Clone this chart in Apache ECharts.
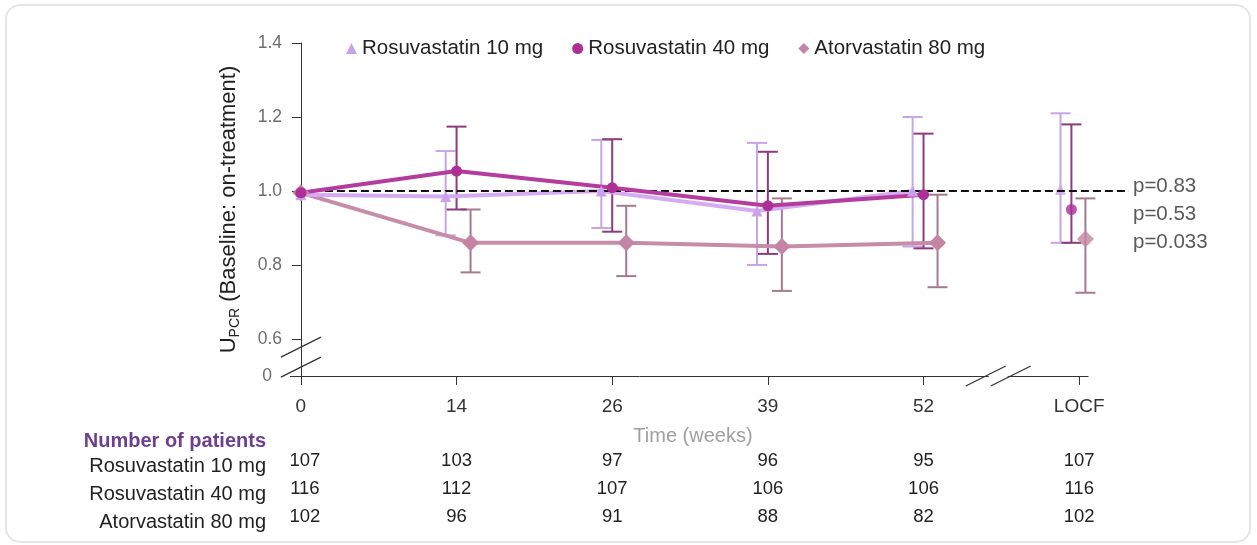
<!DOCTYPE html>
<html>
<head>
<meta charset="utf-8">
<title>UPCR over time by statin</title>
<script src="https://cdn.jsdelivr.net/npm/echarts@6/dist/echarts.min.js"></script>
<style>
  html, body { margin: 0; padding: 0; background: #ffffff; }
  #chart { width: 1257px; height: 545px; }
</style>
</head>
<body>
<div id="chart"></div>
<script>
// Visit labels along the time axis
const weekLabels = ['0', '14', '26', '39', '52', 'LOCF'];

// UPCR ratio (baseline : on-treatment), mean with error-bar bounds per visit
const rosu10Mean  = [0.99, 0.985, 1.00, 0.946, 1.00, 1.005];
const rosu10Upper = [null, 1.108, 1.138, 1.13, 1.20, 1.21];
const rosu10Lower = [null, 0.88, 0.90, 0.80, 0.85, 0.86];

const rosu40Mean  = [0.995, 1.054, 1.009, 0.96, 0.99, 0.95];
const rosu40Upper = [null, 1.174, 1.14, 1.106, 1.155, 1.18];
const rosu40Lower = [null, 0.95, 0.89, 0.83, 0.845, 0.86];

const ator80Mean  = [0.995, 0.86, 0.86, 0.85, 0.86, 0.87];
const ator80Upper = [null, 0.95, 0.96, 0.98, 0.99, 0.98];
const ator80Lower = [null, 0.78, 0.77, 0.73, 0.74, 0.725];

// Number of patients at each visit
const patients10 = [107, 103, 97, 96, 95, 107];
const patients40 = [116, 112, 107, 106, 106, 116];
const patients80 = [102, 96, 91, 88, 82, 102];

const groupNames = ['Rosuvastatin 10 mg', 'Rosuvastatin 40 mg', 'Atorvastatin 80 mg'];
const pValues = ['p=0.83', 'p=0.53', 'p=0.033'];
const refValue = 1.0;

const chart = echarts.init(document.getElementById('chart'), null, { renderer: 'canvas' });
const FONT = '"Liberation Sans", Arial, sans-serif';

// Axis extent: the drawn axis line stops at axisEnd, the dashed line runs on to refEnd
const axisStart = -0.07, axisEnd = 5.06, refEnd = 5.32;

// Per-group look; dodge shifts each group sideways around the visit tick
const styles = [
  { line: '#d5acf2', point: '#c9a2ee', bar: '#c6a6e6', symbol: 'triangle', size: 11, dodge: -0.07 },
  { line: '#b53c9f', point: '#ad2f98', bar: '#8d3b7c', symbol: 'circle',   size: 11, dodge: 0 },
  { line: '#c68ca8', point: '#c484a3', bar: '#a67a8e', symbol: 'diamond',  size: 17, dodge: 0.09 }
];
const locfShift = -0.05;
const means  = [rosu10Mean, rosu40Mean, ator80Mean];
const uppers = [rosu10Upper, rosu40Upper, ator80Upper];
const lowers = [rosu10Lower, rosu40Lower, ator80Lower];
const lastIdx = weekLabels.length - 1;

function xOf(i, g) {
  if (i === 0) return 0;
  return i + styles[g].dodge + (i === lastIdx ? locfShift : 0);
}

function lineSeries(g) {
  const data = [];
  for (let i = 0; i < lastIdx; i++) data.push([xOf(i, g), means[g][i]]);
  return {
    name: groupNames[g], type: 'line', data,
    symbol: styles[g].symbol, symbolSize: styles[g].size,
    lineStyle: { color: styles[g].line, width: 4 },
    itemStyle: { color: styles[g].point },
    emphasis: { disabled: true }, silent: true
  };
}
function locfSeries(g) {
  return {
    name: groupNames[g], type: 'scatter',
    data: [[xOf(lastIdx, g), means[g][lastIdx]]],
    symbol: styles[g].symbol, symbolSize: styles[g].size,
    itemStyle: { color: styles[g].point },
    emphasis: { disabled: true }, silent: true
  };
}
function barSeries(g) {
  const data = [];
  for (let i = 0; i < weekLabels.length; i++) {
    if (uppers[g][i] == null) continue;
    data.push([xOf(i, g), lowers[g][i], uppers[g][i]]);
  }
  return {
    name: groupNames[g], type: 'custom', data, silent: true,
    renderItem: function (params, api) {
      const top = api.coord([api.value(0), api.value(2)]);
      const bot = api.coord([api.value(0), api.value(1)]);
      const half = 10;
      const st = { stroke: styles[g].bar, lineWidth: 2 };
      return {
        type: 'group',
        children: [
          { type: 'line', shape: { x1: top[0], y1: top[1], x2: bot[0], y2: bot[1] }, style: st },
          { type: 'line', shape: { x1: top[0] - half, y1: top[1], x2: top[0] + half, y2: top[1] }, style: st },
          { type: 'line', shape: { x1: bot[0] - half, y1: bot[1], x2: bot[0] + half, y2: bot[1] }, style: st }
        ]
      };
    }
  };
}

// Dashed no-change line at a ratio of 1.0, running past the LOCF column
const refLine = {
  name: 'reference', type: 'line', silent: true,
  data: [[0, refValue], [refEnd, refValue]],
  symbol: 'none',
  lineStyle: { color: '#111', width: 2, type: [8, 4] },
  emphasis: { disabled: true }
};

const series = [
  barSeries(2), lineSeries(2), locfSeries(2),
  barSeries(0), lineSeries(0), locfSeries(0),
  refLine,
  barSeries(1), lineSeries(1), locfSeries(1)
];

chart.setOption({
  animation: false,
  backgroundColor: '#ffffff',
  textStyle: { fontFamily: FONT },
  legend: {
    left: 341, top: 33, itemGap: 29, itemWidth: 11, itemHeight: 11,
    textStyle: { fontFamily: FONT, fontSize: 20.5, color: '#222' },
    data: groupNames.map((n, g) => ({ name: n, icon: styles[g].symbol, itemStyle: { color: styles[g].point } })),
    selectedMode: false
  },
  grid: { left: 290, right: 128, top: 43, bottom: 169, containLabel: false },
  xAxis: {
    type: 'value', min: axisStart, max: refEnd,
    name: 'Time (weeks)', nameLocation: 'middle', nameGap: 50, nameMoveOverlap: false,
    nameTextStyle: { fontFamily: FONT, fontSize: 20, color: '#a0a0a0', padding: [0, 33, 0, 0] },
    axisLine: { show: false, onZero: false },
    axisTick: { show: true, length: 9, customValues: [0, 1, 2, 3, 4, 5], lineStyle: { color: '#333' } },
    axisLabel: {
      customValues: [0, 1, 2, 3, 4, 5], margin: 21,
      fontFamily: FONT, fontSize: 19, color: '#333',
      formatter: v => weekLabels[Math.round(v)]
    },
    splitLine: { show: false }
  },
  yAxis: {
    type: 'value', min: 0.5, max: 1.4,
    name: '{u|U}{s|PCR}{u| (Baseline: on-treatment)}',
    nameLocation: 'middle', nameGap: 48, nameRotate: 90, nameMoveOverlap: false,
    nameTextStyle: {
      fontFamily: FONT, color: '#222',
      rich: {
        u: { fontFamily: FONT, fontSize: 22, color: '#222' },
        s: { fontFamily: FONT, fontSize: 14, color: '#222', padding: [12, 0, 0, 0] }
      }
    },
    axisLine: { show: true, onZero: true, lineStyle: { color: '#333', width: 1 } },
    axisTick: { show: true, length: 9, customValues: [0.5, 0.6, 0.8, 1.0, 1.2, 1.4], lineStyle: { color: '#333' } },
    axisLabel: {
      customValues: [0.5, 0.6, 0.8, 1.0, 1.2, 1.4], margin: 8,
      fontFamily: FONT, fontSize: 17.5, color: '#6e6e6e',
      formatter: v => (Math.abs(v - 0.5) < 1e-6 ? '{z|0}' : v.toFixed(1)),
      rich: { z: { fontFamily: FONT, fontSize: 17.5, color: '#6e6e6e', padding: [0, 10, 0, 0] } }
    },
    splitLine: { show: false }
  },
  series
});

// Axis line with breaks, p-values and the patient-count table, placed through the axes
function px(x, y) { return chart.convertToPixel({ xAxisIndex: 0, yAxisIndex: 0 }, [x, y]); }
const graphics = [];

graphics.push({
  type: 'rect', z: -10, silent: true,
  shape: { x: 6, y: 5, width: 1244, height: 537, r: 14 },
  style: { fill: 'none', stroke: '#e6e6e6', lineWidth: 2 }
});

function slash(cx, cy) {
  return {
    type: 'line', z: 100, silent: true,
    shape: { x1: cx - 20, y1: cy + 10, x2: cx + 20, y2: cy - 10 },
    style: { stroke: '#333', lineWidth: 1.3 }
  };
}
function hLine(x1, x2, y) {
  return {
    type: 'line', z: 100, silent: true,
    shape: { x1: x1, y1: y, x2: x2, y2: y },
    style: { stroke: '#333', lineWidth: 1 }
  };
}
// y-axis break between 0 and 0.6
const yb1 = px(0, 0.578), yb2 = px(0, 0.524);
graphics.push(slash(yb1[0], yb1[1]), slash(yb2[0], yb2[1]));
// x-axis line, broken between 52 and LOCF
const xa0 = px(axisStart, 0.5), xa1 = px(axisEnd, 0.5);
const xb1 = px(4.40, 0.5), xb2 = px(4.56, 0.5);
const ay = Math.round(xa0[1]) + 0.5;
graphics.push(hLine(xa0[0], xb1[0] + 3, ay), hLine(xb2[0] - 3, xa1[0], ay));
graphics.push(slash(xb1[0], xb1[1]), slash(xb2[0], xb2[1]));

// p-values beside the LOCF markers
const pRef = px(refEnd, refValue);
pValues.forEach((t, k) => {
  graphics.push({
    type: 'text', silent: true, x: pRef[0] + 4, y: pRef[1] - 5 + k * 28,
    style: { text: t, fontFamily: FONT, fontSize: 20.5, fill: '#5a5a5a', verticalAlign: 'middle', align: 'left' }
  });
});

// Patient counts
const axisY = xa0[1];
graphics.push({
  type: 'text', silent: true, x: 266, y: axisY + 65,
  style: { text: 'Number of patients', fontFamily: FONT, fontSize: 20, fontWeight: 'bold', fill: '#6e3f8e', align: 'right', verticalAlign: 'middle' }
});
const counts = [patients10, patients40, patients80];
groupNames.forEach((n, g) => {
  const rowY = axisY + 90 + g * 28;
  graphics.push({
    type: 'text', silent: true, x: 266, y: rowY,
    style: { text: n, fontFamily: FONT, fontSize: 20, fill: '#222', align: 'right', verticalAlign: 'middle' }
  });
  counts[g].forEach((c, i) => {
    const cx = px(i, 0.5)[0] + (i === 0 ? 4 : 0);
    graphics.push({
      type: 'text', silent: true, x: cx, y: rowY - 5,
      style: { text: String(c), fontFamily: FONT, fontSize: 18.5, fill: '#222', align: 'center', verticalAlign: 'middle' }
    });
  });
});

chart.setOption({ graphic: graphics });
</script>
</body>
</html>
